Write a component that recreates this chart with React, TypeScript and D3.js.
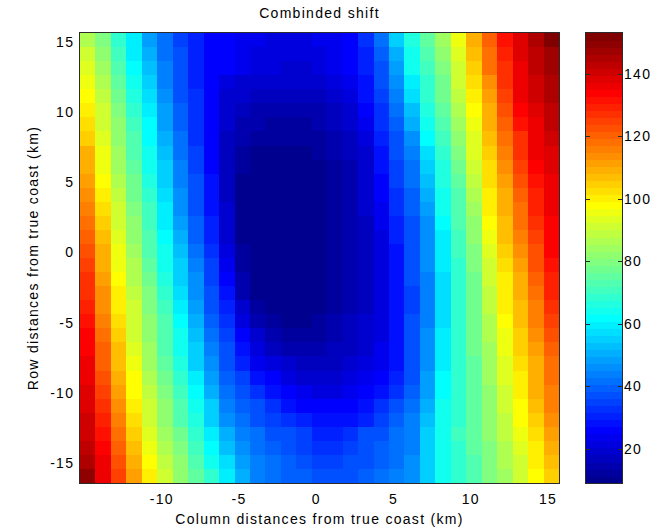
import React from "react";
import * as d3 from "d3";

// ---- chart data -----------------------------------------------------------
const TITLE = "Combinded shift";
const X_LABEL = "Column distances from true coast (km)";
const Y_LABEL = "Row distances from true coast (km)";

// axis limits (km) of the image extent
const X_LIMITS = [-15.25, 15.75];
const Y_LIMITS = [-16.45, 15.65];
const X_TICKS = [-10, -5, 0, 5, 10, 15];
const Y_TICKS = [-15, -10, -5, 0, 5, 10, 15];

// colour limits and colorbar ticks
const COLOR_LIMITS = [9, 153];
const COLORBAR_TICKS = [20, 40, 60, 80, 100, 120, 140];

// combined shift per cell; first row is the northern (top) edge, columns run west -> east
const SHIFT: number[][] = [
  [87, 80, 69, 59, 49, 41, 35, 30, 26, 25, 24, 23, 22, 22, 22, 23, 24, 26, 33, 41, 54, 66, 75, 85, 96, 109, 121, 132, 139, 144, 152],
  [90, 82, 71, 60, 50, 42, 36, 30, 26, 25, 23, 22, 21, 21, 21, 22, 24, 25, 31, 39, 51, 64, 73, 82, 94, 107, 119, 130, 138, 143, 148],
  [93, 84, 73, 62, 52, 43, 37, 30, 26, 25, 23, 22, 21, 20, 20, 22, 24, 25, 30, 38, 48, 63, 71, 80, 92, 105, 117, 128, 137, 142, 147],
  [95, 86, 75, 64, 54, 44, 37, 31, 25, 22, 20, 20, 19, 18, 18, 20, 21, 23, 28, 36, 45, 60, 69, 78, 90, 102, 114, 126, 136, 141, 146],
  [98, 88, 77, 67, 57, 46, 38, 32, 25, 20, 18, 17, 16, 16, 16, 17, 19, 22, 27, 35, 43, 57, 68, 77, 88, 100, 112, 124, 135, 140, 145],
  [100, 90, 79, 69, 59, 48, 39, 32, 25, 19, 16, 15, 15, 14, 14, 15, 17, 20, 25, 33, 41, 53, 66, 75, 86, 98, 110, 122, 133, 138, 143],
  [103, 91, 81, 71, 61, 49, 40, 33, 25, 18, 15, 14, 13, 13, 13, 14, 16, 18, 24, 32, 40, 50, 64, 73, 84, 96, 108, 120, 131, 137, 142],
  [105, 93, 82, 72, 62, 51, 41, 33, 25, 17, 14, 13, 12, 12, 12, 13, 15, 17, 22, 30, 38, 47, 61, 71, 81, 94, 106, 118, 128, 136, 140],
  [108, 95, 84, 74, 64, 53, 42, 34, 26, 17, 13, 11, 11, 10, 11, 12, 14, 16, 20, 29, 36, 44, 58, 69, 79, 93, 105, 116, 126, 135, 139],
  [110, 96, 85, 75, 65, 54, 43, 35, 26, 17, 12, 11, 10, 10, 10, 11, 13, 15, 19, 27, 35, 42, 55, 67, 77, 91, 103, 114, 124, 133, 138],
  [112, 97, 87, 77, 67, 56, 44, 36, 27, 17, 11, 10, 10, 9, 10, 11, 13, 15, 18, 26, 34, 41, 53, 66, 76, 89, 102, 112, 122, 132, 137],
  [114, 99, 88, 78, 68, 57, 45, 37, 28, 17, 11, 10, 9, 9, 9, 10, 12, 15, 18, 25, 33, 40, 51, 64, 74, 87, 100, 110, 120, 130, 136],
  [116, 102, 90, 80, 70, 59, 47, 38, 29, 18, 11, 10, 9, 9, 9, 10, 12, 15, 18, 24, 32, 39, 49, 63, 73, 85, 99, 109, 119, 129, 135],
  [118, 104, 92, 81, 71, 60, 49, 39, 30, 19, 11, 10, 9, 9, 9, 10, 12, 15, 17, 23, 31, 38, 47, 61, 72, 83, 97, 107, 117, 127, 134],
  [120, 106, 94, 83, 73, 62, 51, 40, 31, 20, 11, 10, 9, 9, 9, 10, 12, 15, 17, 22, 30, 38, 46, 60, 71, 82, 95, 106, 115, 125, 134],
  [122, 108, 95, 84, 74, 63, 52, 41, 32, 21, 12, 10, 9, 9, 9, 10, 12, 15, 17, 21, 29, 37, 45, 59, 70, 80, 93, 104, 113, 123, 133],
  [125, 110, 96, 86, 76, 65, 54, 43, 34, 23, 13, 10, 9, 9, 9, 10, 12, 15, 17, 21, 29, 37, 45, 59, 69, 79, 92, 103, 112, 122, 132],
  [126, 111, 98, 87, 77, 67, 56, 45, 35, 25, 14, 11, 10, 9, 9, 10, 12, 15, 17, 21, 28, 36, 44, 58, 68, 78, 90, 101, 110, 120, 130],
  [128, 113, 100, 89, 79, 69, 58, 47, 37, 28, 15, 11, 10, 10, 10, 11, 13, 15, 17, 21, 27, 35, 44, 57, 68, 78, 89, 100, 109, 118, 129],
  [130, 114, 101, 90, 80, 70, 60, 48, 38, 30, 19, 12, 11, 10, 10, 11, 13, 15, 17, 21, 27, 35, 44, 57, 68, 77, 88, 99, 107, 116, 127],
  [132, 116, 102, 91, 81, 72, 62, 50, 40, 32, 22, 15, 12, 11, 11, 12, 14, 16, 18, 22, 27, 36, 44, 58, 68, 77, 87, 98, 106, 115, 125],
  [133, 118, 104, 92, 82, 73, 63, 52, 41, 34, 25, 18, 14, 12, 12, 13, 15, 16, 19, 22, 27, 36, 45, 59, 68, 77, 86, 96, 105, 113, 123],
  [134, 120, 106, 94, 84, 74, 65, 54, 43, 36, 29, 21, 17, 15, 14, 15, 16, 17, 20, 23, 27, 36, 46, 60, 68, 77, 85, 95, 104, 112, 121],
  [135, 121, 107, 95, 85, 76, 66, 56, 45, 38, 31, 24, 21, 18, 17, 16, 17, 19, 21, 24, 28, 37, 47, 60, 68, 76, 84, 94, 102, 110, 119],
  [137, 123, 109, 97, 87, 78, 68, 59, 48, 40, 34, 28, 25, 22, 20, 18, 19, 21, 23, 25, 30, 38, 48, 61, 69, 76, 84, 93, 101, 109, 118],
  [138, 125, 111, 98, 88, 79, 70, 61, 51, 42, 37, 32, 28, 25, 23, 21, 22, 23, 25, 28, 33, 40, 49, 62, 69, 76, 83, 91, 99, 108, 116],
  [139, 127, 113, 100, 90, 81, 72, 64, 54, 44, 40, 36, 32, 28, 26, 25, 25, 26, 27, 32, 37, 42, 51, 63, 69, 76, 83, 90, 98, 107, 115],
  [140, 129, 115, 102, 92, 83, 74, 66, 56, 47, 41, 38, 35, 32, 30, 28, 27, 29, 31, 35, 39, 43, 52, 63, 69, 76, 82, 89, 97, 105, 113],
  [141, 132, 118, 105, 94, 85, 77, 68, 59, 50, 43, 41, 38, 36, 34, 31, 30, 33, 36, 38, 41, 44, 54, 64, 70, 76, 82, 89, 96, 103, 112],
  [142, 133, 120, 107, 96, 87, 79, 70, 62, 53, 45, 42, 39, 37, 35, 33, 32, 34, 37, 39, 41, 44, 54, 64, 69, 75, 80, 87, 94, 101, 109],
  [144, 135, 123, 110, 98, 89, 81, 73, 65, 57, 48, 43, 41, 39, 37, 35, 34, 36, 38, 40, 42, 45, 55, 64, 69, 74, 79, 86, 92, 99, 107],
  [150, 136, 124, 112, 100, 91, 83, 75, 68, 60, 51, 44, 42, 40, 39, 37, 36, 38, 39, 41, 43, 46, 56, 64, 68, 74, 79, 84, 90, 97, 105],
];

// ---- layout -----------------------------------------------------------------
const WIDTH = 666;
const HEIGHT = 532;
const PLOT = { left: 80, right: 559, top: 33, bottom: 483 };
const BAR = { left: 586, right: 622 };
const FONT = "'Liberation Sans', Arial, Helvetica, sans-serif";
const FONT_SIZE = 14;
const SPACING = 1.3;
const AXIS_COLOR = "#2b2b2b";

// 64-step "jet" colour map
const N_COLORS = 64;
function jet(k: number): string {
  const r = k <= 24 ? 0 : k <= 40 ? (k - 24) / 16 : k <= 56 ? 1 : 1 - (k - 56) / 16;
  const g = k <= 8 ? 0 : k <= 24 ? (k - 8) / 16 : k <= 40 ? 1 : k <= 56 ? 1 - (k - 40) / 16 : 0;
  const b = k <= 8 ? 0.5 + k / 16 : k <= 24 ? 1 : k <= 40 ? 1 - (k - 24) / 16 : 0;
  return d3.rgb(r * 255, g * 255, b * 255).formatHex();
}
const JET = d3.range(1, N_COLORS + 1).map(jet);

export default function App() {
  const nRows = SHIFT.length;
  const nCols = SHIFT[0].length;

  const x = d3.scaleLinear().domain(X_LIMITS).range([PLOT.left, PLOT.right]);
  const y = d3.scaleLinear().domain(Y_LIMITS).range([PLOT.bottom, PLOT.top]);
  const col = d3.scaleBand<number>().domain(d3.range(nCols)).range([PLOT.left, PLOT.right]);
  const row = d3.scaleBand<number>().domain(d3.range(nRows)).range([PLOT.top, PLOT.bottom]);
  const color = d3.scaleQuantize<string>().domain(COLOR_LIMITS).range(JET);
  const barY = d3.scaleLinear().domain(COLOR_LIMITS).range([PLOT.bottom, PLOT.top]);

  const step = (COLOR_LIMITS[1] - COLOR_LIMITS[0]) / N_COLORS;
  const bands = d3.range(N_COLORS).map((i) => ({
    lo: COLOR_LIMITS[0] + i * step,
    hi: COLOR_LIMITS[0] + (i + 1) * step,
    fill: JET[i],
  }));

  const textProps = {
    fontFamily: FONT,
    fontSize: FONT_SIZE,
    fill: "#000",
    letterSpacing: SPACING,
  };

  return (
    <div style={{ position: "absolute", left: 0, top: 0 }}>
      <svg width={WIDTH} height={HEIGHT} viewBox={`0 0 ${WIDTH} ${HEIGHT}`} style={{ display: "block", background: "#fff" }}>
        {/* heat map cells */}
        <g shapeRendering="crispEdges">
          {SHIFT.map((values, r) =>
            values.map((v, c) => (
              <rect
                key={`${r}-${c}`}
                x={col(c)}
                y={row(r)}
                width={col.bandwidth() + 0.6}
                height={row.bandwidth() + 0.6}
                fill={color(v)}
              />
            ))
          )}
        </g>
        <rect
          x={PLOT.left - 0.5}
          y={PLOT.top - 0.5}
          width={PLOT.right - PLOT.left + 1}
          height={PLOT.bottom - PLOT.top + 1}
          fill="none"
          stroke={AXIS_COLOR}
          strokeWidth={1}
        />

        {/* axis tick labels */}
        {X_TICKS.map((t) => (
          <text key={`xt${t}`} x={x(t) + SPACING / 2} y={504} textAnchor="middle" {...textProps}>
            {t}
          </text>
        ))}
        {Y_TICKS.map((t) => (
          <text key={`yt${t}`} x={73 + SPACING} y={y(t)} dy="0.36em" textAnchor="end" {...textProps}>
            {t}
          </text>
        ))}

        {/* titles */}
        <text x={(PLOT.left + PLOT.right) / 2} y={18} textAnchor="middle" {...textProps}>
          {TITLE}
        </text>
        <text x={(PLOT.left + PLOT.right) / 2} y={524} textAnchor="middle" {...textProps}>
          {X_LABEL}
        </text>
        <text
          transform={`translate(38, ${(PLOT.top + PLOT.bottom) / 2}) rotate(-90)`}
          textAnchor="middle"
          {...textProps}
        >
          {Y_LABEL}
        </text>

        {/* colorbar */}
        <g shapeRendering="crispEdges">
          {bands.map((b, i) => (
            <rect
              key={`cb${i}`}
              x={BAR.left}
              y={barY(b.hi)}
              width={BAR.right - BAR.left}
              height={barY(b.lo) - barY(b.hi) + 0.6}
              fill={b.fill}
            />
          ))}
          {COLORBAR_TICKS.map((t) => (
            <g key={`cbt${t}`}>
              <line x1={BAR.left} x2={BAR.left + 4} y1={Math.round(barY(t)) + 0.5} y2={Math.round(barY(t)) + 0.5} stroke={AXIS_COLOR} />
              <line x1={BAR.right - 4} x2={BAR.right} y1={Math.round(barY(t)) + 0.5} y2={Math.round(barY(t)) + 0.5} stroke={AXIS_COLOR} />
            </g>
          ))}
        </g>
        <rect
          x={BAR.left - 0.5}
          y={PLOT.top - 0.5}
          width={BAR.right - BAR.left + 1}
          height={PLOT.bottom - PLOT.top + 1}
          fill="none"
          stroke={AXIS_COLOR}
          strokeWidth={1}
        />
        {COLORBAR_TICKS.map((t) => (
          <text key={`cbl${t}`} x={BAR.right + 2} y={barY(t)} dy="0.36em" textAnchor="start" {...textProps}>
            {t}
          </text>
        ))}
      </svg>
    </div>
  );
}
